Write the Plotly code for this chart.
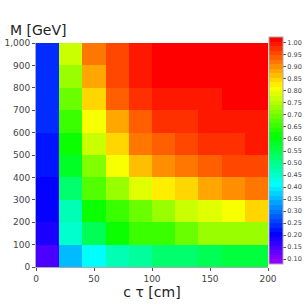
import colorsys
import plotly.graph_objects as go

# Data
ctau = [10, 30, 50, 70, 90, 110, 130, 150, 170, 190]
mass = [50, 150, 250, 350, 450, 550, 650, 750, 850, 950]
eff = [
    [0.155, 0.354, 0.408, 0.459, 0.490, 0.516, 0.530, 0.543, 0.557, 0.570],
    [0.192, 0.449, 0.546, 0.611, 0.648, 0.651, 0.692, 0.732, 0.739, 0.732],
    [0.206, 0.472, 0.611, 0.661, 0.698, 0.732, 0.772, 0.786, 0.813, 0.837],
    [0.206, 0.533, 0.675, 0.739, 0.790, 0.827, 0.853, 0.880, 0.900, 0.920],
    [0.219, 0.584, 0.712, 0.813, 0.864, 0.894, 0.921, 0.948, 0.955, 0.965],
    [0.219, 0.624, 0.772, 0.853, 0.914, 0.935, 0.951, 0.975, 0.980, 0.990],
    [0.233, 0.661, 0.800, 0.887, 0.940, 0.972, 0.975, 0.990, 1.000, 1.000],
    [0.243, 0.698, 0.850, 0.940, 0.978, 0.990, 0.990, 0.990, 1.008, 1.010],
    [0.243, 0.739, 0.887, 0.951, 0.990, 1.008, 1.008, 1.010, 1.010, 1.010],
    [0.243, 0.772, 0.914, 0.965, 1.002, 1.008, 1.010, 1.010, 1.010, 1.010],
]
cbar_ticks = [0.10, 0.15, 0.20, 0.25, 0.30, 0.35, 0.40, 0.45, 0.50, 0.55,
              0.60, 0.65, 0.70, 0.75, 0.80, 0.85, 0.90, 0.95, 1.00]
x_ticks = [0, 50, 100, 150, 200]
y_ticks = [0, 100, 200, 300, 400, 500, 600, 700, 800, 900, 1000]

ZMIN, ZMAX = 0.08, 1.024
NCOL = 50

# ROOT "pretty" palette: HLS hue scan violet -> red, discrete bands
colors = []
for i in range(NCOL):
    hue = 280 - (i + 1) * (280 / NCOL)
    r, g, b = colorsys.hls_to_rgb(hue / 360.0, 0.5, 1.0)
    colors.append(f"rgb({int(round(r*255))},{int(round(g*255))},{int(round(b*255))})")
cscale = []
for i, c in enumerate(colors):
    cscale.append([i / NCOL, c])
    cscale.append([(i + 1) / NCOL, c])

font = "DejaVu Sans"
fig = go.Figure(go.Heatmap(
    x=ctau, y=mass, z=eff,
    zmin=ZMIN, zmax=ZMAX,
    colorscale=cscale,
    colorbar=dict(
        thickness=14, thicknessmode="pixels",
        len=227, lenmode="pixels",
        x=1.004, xanchor="left", y=0.52, yanchor="middle",
        tickvals=cbar_ticks,
        ticktext=[f"{v:.2f}" for v in cbar_ticks],
        ticks="outside", ticklen=3, tickcolor="#555",
        tickfont=dict(family=font, size=6.5, color="#444"),
        outlinewidth=1, outlinecolor="#aaa",
        xpad=0, ypad=0,
    ),
))

fig.update_layout(
    width=308, height=308,
    margin=dict(l=36, r=40, t=43, b=41, autoexpand=False),
    paper_bgcolor="white", plot_bgcolor="white",
    font=dict(family=font, color="#333"),
    xaxis=dict(range=[0, 200], tickvals=x_ticks, ticks="outside", ticklen=3,
               tickcolor="#555", showline=True, linecolor="#aaa", showgrid=False,
               zeroline=False, automargin=False, tickfont=dict(size=9, color="#444"),
               title=dict(text="c τ [cm]", font=dict(size=14, color="#222"), standoff=1)),
    yaxis=dict(range=[0, 1000], tickvals=y_ticks, tickformat=",d", ticks="outside",
               ticklen=3, tickcolor="#555", showline=True, linecolor="#aaa",
               showgrid=False, zeroline=False, automargin=False,
               tickfont=dict(size=9, color="#444")),
    annotations=[dict(text="M [GeV]", xref="paper", yref="paper", x=-0.12, y=1.015,
                      xanchor="left", yanchor="bottom", showarrow=False,
                      font=dict(size=14, color="#222"))],
)

fig.write_html("out.html", config={"displayModeBar": False},
               post_script="document.body.style.margin='0';")
